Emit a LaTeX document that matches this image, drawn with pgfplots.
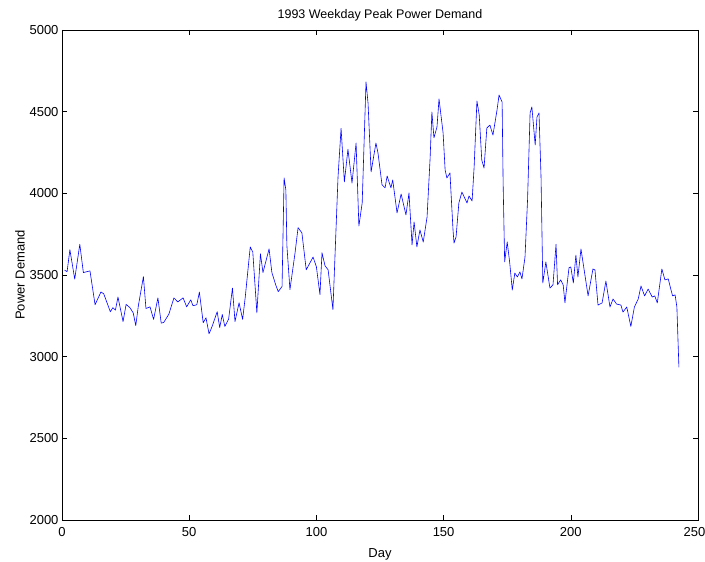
\documentclass[border=0pt]{standalone}
\usepackage{pgfplots}
\pgfplotsset{compat=1.18}
\usepackage{fontspec}
\setmainfont{Liberation Sans}

% Weekday peak power demand, 1993 (day, demand)
\pgfplotstableread{
day demand
1 3530
2 3520
3.1 3655
5 3475
7 3688
8.4 3515
11 3525
13 3318
15.3 3396
16.4 3385
19 3275
20 3300
21 3285
22 3365
24 3215
25.2 3320
26.7 3300
28 3268
29 3190
30 3310
32 3490
33 3295
34.6 3305
36 3228
37.7 3360
39 3205
40 3210
42 3260
44 3360
45.5 3335
47.6 3360
49 3305
50.6 3348
51.5 3312
53 3318
54 3396
55.5 3208
56.6 3238
57.8 3140
59 3185
61 3275
62 3178
63 3258
64 3185
65.5 3230
67 3420
68 3215
69.6 3330
71 3228
72 3360
74 3672
75 3640
76.6 3268
78 3630
79 3515
81.4 3660
82.5 3515
84 3440
85 3398
86.5 3430
87.3 4095
88 4020
88.4 3680
89.6 3410
91.6 3635
92.8 3790
94.3 3758
96 3532
98.7 3610
100 3550
101.4 3380
102.2 3636
103.4 3556
104.6 3532
106.5 3288
108.5 4100
109.7 4398
111 4070
112.4 4270
114 4063
115.6 4308
116.7 3800
118 3942
119.5 4682
120.3 4553
121.5 4131
123.4 4308
124.2 4248
125.8 4052
127 4034
127.8 4106
129.3 4034
130 4082
131.7 3880
133.3 3996
135.2 3868
136.4 4002
137.6 3684
138.4 3825
139.5 3672
140.7 3776
142 3702
143.5 3855
144.7 4216
145.4 4498
146.2 4340
147.4 4406
148.2 4578
149.8 4370
150.6 4143
151.3 4094
152.5 4125
153.7 3776
154.1 3696
154.9 3733
156 3941
157.2 4008
159.2 3941
160 3984
161.2 3953
162 4161
163.1 4565
164 4480
165 4204
165.9 4155
167 4400
168.2 4418
169.4 4357
171 4510
171.8 4602
173 4559
173.4 4063
174 3580
175 3702
176 3574
177 3408
178 3512
179 3488
180 3519
180.8 3476
182 3610
183 3959
184 4492
184.7 4529
186 4296
186.7 4467
187.5 4492
188.3 4100
189 3451
190.2 3580
191.8 3420
193 3440
194.2 3688
194.8 3440
196 3470
197 3440
197.7 3330
199.3 3545
200 3549
201 3451
202 3622
202.8 3488
204 3659
206.8 3372
208.7 3537
209.5 3531
210.7 3316
212.3 3329
213.8 3463
215.4 3304
216.6 3353
218 3322
219.7 3316
220.5 3273
222 3304
223.6 3185
225 3304
226.5 3353
227.6 3433
229 3372
230.4 3414
232 3365
233 3372
234 3329
235.8 3537
237 3470
238.3 3476
240 3372
241 3378
241.7 3304
242.5 2935
}\demandtable

\begin{document}
\begin{tikzpicture}
\path[use as bounding box] (-62pt,-42pt) rectangle (643pt,520pt);
\begin{axis}[
  at={(0,0)}, anchor=south west,
  scale only axis,
  width=636pt, height=490pt,
  xmin=0, xmax=250, ymin=2000, ymax=5000,
  xtick={0,50,...,250},
  ytick={2000,2500,...,5000},
  tick align=inside,
  major tick length=5pt,
  axis line style={black, line width=0.6pt},
  every tick/.style={black, line width=0.6pt},
  tick label style={font=\fontsize{13}{15}\selectfont},
  xticklabel style={yshift=-4pt},
  xticklabel={\ifdim\tick pt>249pt\hspace*{-7pt}\fi\pgfmathprintnumber{\tick}},
  /pgf/number format/assume math mode=true,
  /pgf/number format/set thousands separator={},
  scaled ticks=false,
  xlabel={Day},
  ylabel={Power Demand},
  label style={font=\fontsize{13}{15}\selectfont},
  xlabel style={yshift=-5pt},
  ylabel style={yshift=-2pt},
  title={1993 Weekday Peak Power Demand},
  title style={font=\fontsize{12.5}{15}\selectfont, yshift=-1pt},
]
\addplot[color={rgb,255:red,0;green,0;blue,255}, line width=0.6pt, line join=round] table[x=day, y=demand] {\demandtable};
\end{axis}
\end{tikzpicture}
\end{document}
